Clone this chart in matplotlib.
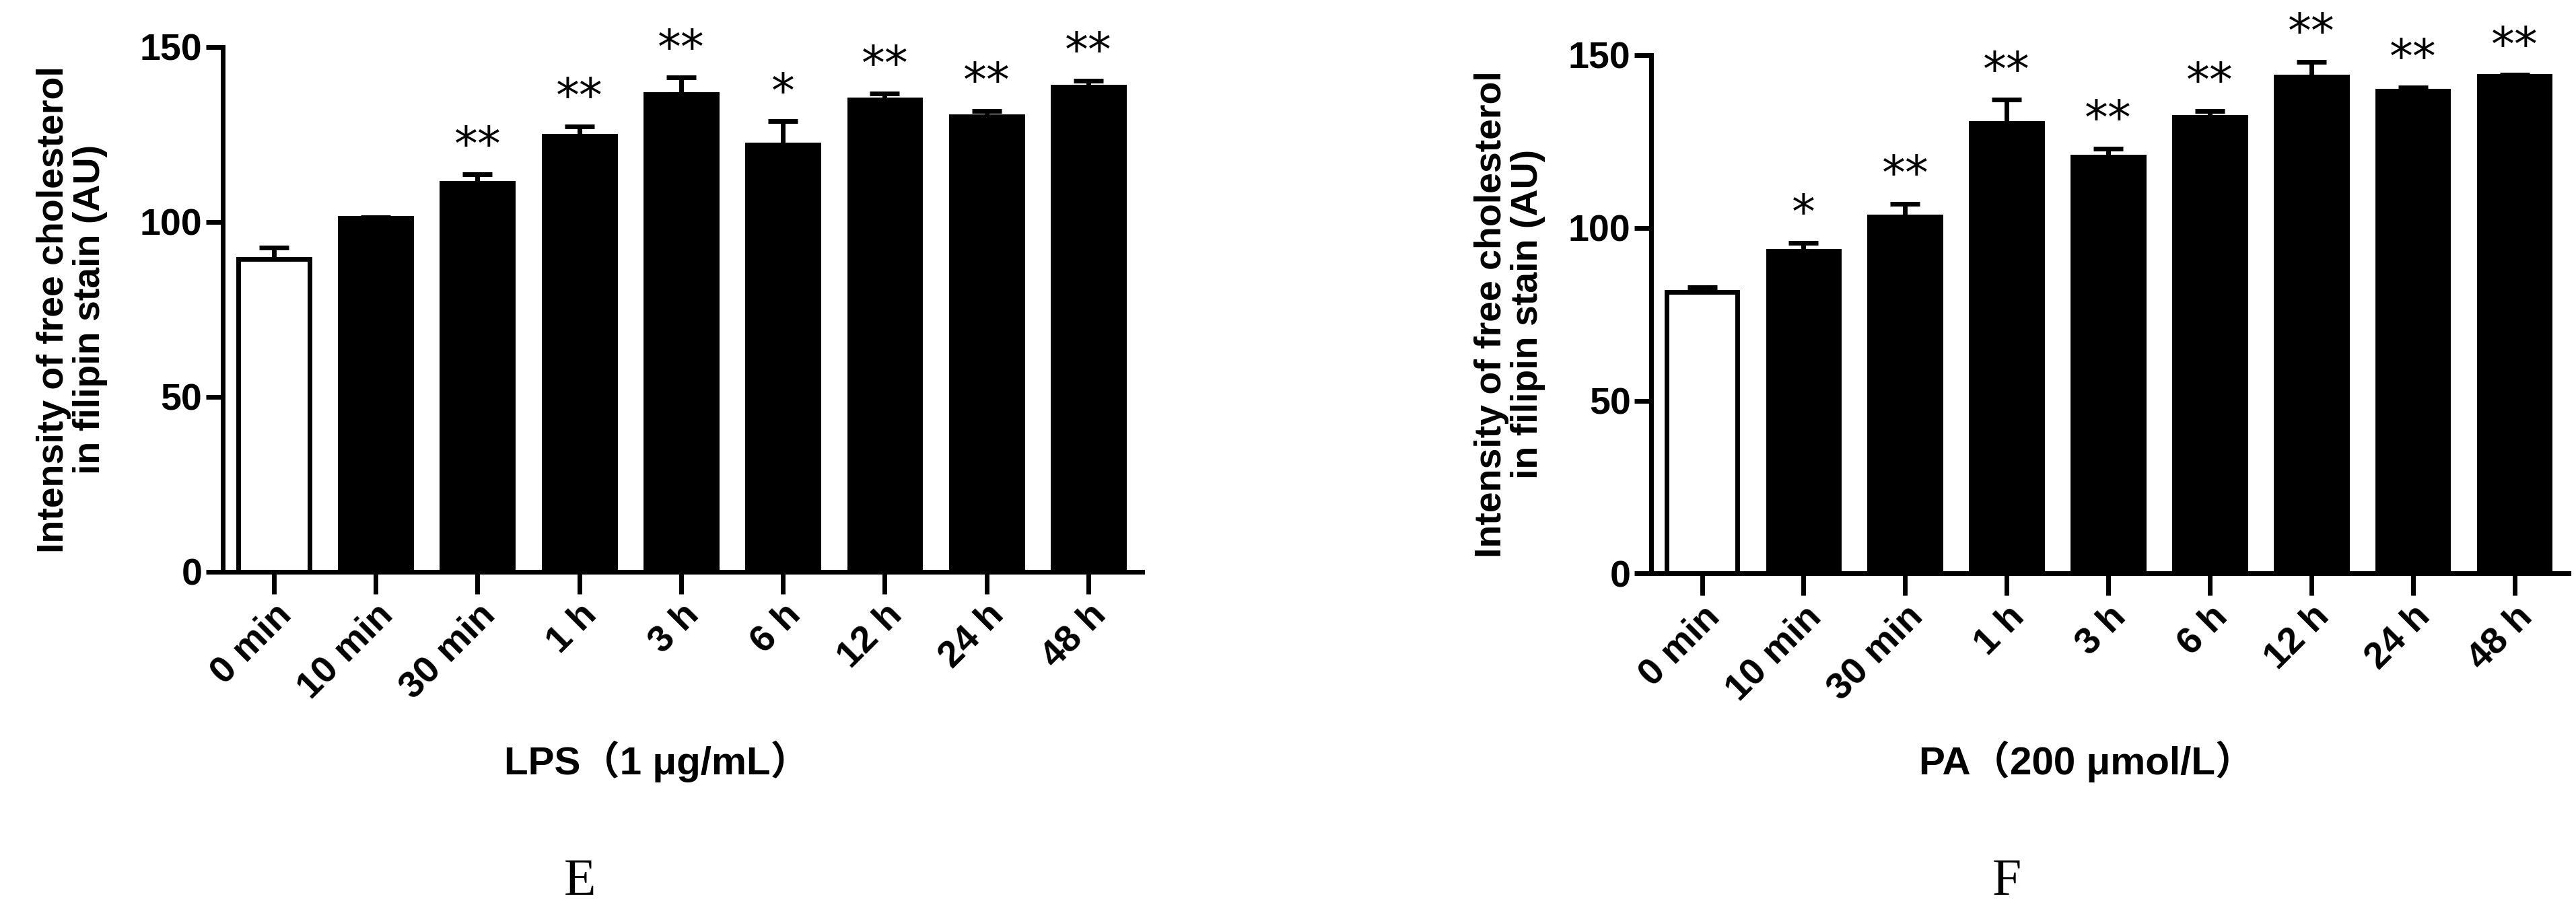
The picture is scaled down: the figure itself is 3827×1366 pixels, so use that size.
import numpy as np
import matplotlib.pyplot as plt

groups = ["0 min", "10 min", "30 min", "1 h", "3 h", "6 h", "12 h", "24 h", "48 h"]

lps_mean = [89.3, 101.0, 111.0, 124.6, 136.5, 122.1, 135.0, 130.2, 138.5]
lps_err = [3.4, 0.3, 2.5, 2.6, 4.7, 6.6, 1.6, 1.5, 1.9]
lps_sig = ["", "", "**", "**", "**", "*", "**", "**", "**"]

pa_mean = [81.4, 93.3, 103.2, 130.3, 120.5, 132.0, 143.8, 139.7, 144.0]
pa_err = [1.4, 2.4, 3.8, 6.8, 2.4, 1.9, 4.3, 1.0, 0.3]
pa_sig = ["", "*", "**", "**", "**", "**", "**", "**", "**"]

plt.rcParams['font.family'] = ['Liberation Sans', 'Noto Sans CJK SC', 'DejaVu Sans']
plt.rcParams['font.weight'] = 'bold'

fig = plt.figure(figsize=(38.27, 13.66), dpi=100)


def panel(rect, means, errs, sigs, xlabel, xlab_x, letter, letter_x, ylab_x):
    ax = fig.add_axes(rect)
    x = np.arange(len(groups))
    colors = ["white"] + ["black"] * (len(groups) - 1)
    ax.bar(x, means, width=0.7, color=colors, edgecolor="black", linewidth=5, zorder=2)
    ax.errorbar(x, means, yerr=[np.zeros(len(errs)), errs], fmt="none",
                ecolor="black", elinewidth=5, capsize=16, capthick=5, zorder=3)
    for xi, m, e, s in zip(x, means, errs, sigs):
        if s:
            ax.text(xi, m + e + 1.5, s, ha="center", va="bottom", fontsize=50,
                    fontweight="normal", family="DejaVu Sans")
    ax.set_xlim(-0.5, 8.53)
    ax.set_ylim(0, 150)
    ax.set_yticks([0, 50, 100, 150])
    ax.set_xticks(x)
    ax.set_xticklabels(groups, rotation=45, ha="right", rotation_mode="anchor")
    ax.tick_params(axis="both", labelsize=40, width=5, length=24, direction="out")
    ax.tick_params(axis="y", length=18, pad=4)
    for sp in ["top", "right"]:
        ax.spines[sp].set_visible(False)
    for sp in ["left", "bottom"]:
        ax.spines[sp].set_linewidth(5)
    fig.text(xlab_x, 0.171, xlabel, ha="center", va="center", fontsize=42,
             fontweight="bold")
    fig.text(ylab_x, rect[1] + rect[3] / 2,
             "Intensity of free cholesterol\nin filipin stain (AU)",
             rotation=90, ha="center", va="center", fontsize=40, fontweight="bold",
             linespacing=1.05)
    fig.text(letter_x, 0.04, letter, ha="center", va="center", fontsize=56,
             family="Liberation Serif", fontweight="normal")
    return ax


panel([0.0865, 0.378, 0.357, 0.571], lps_mean, lps_err, lps_sig,
      "LPS（1 μg/mL）", 0.255, "E", 0.225, 0.028)
panel([0.641, 0.376, 0.356, 0.564], pa_mean, pa_err, pa_sig,
      "PA（200 μmol/L）", 0.810, "F", 0.779, 0.586)

fig.savefig("out.png", dpi=100)
